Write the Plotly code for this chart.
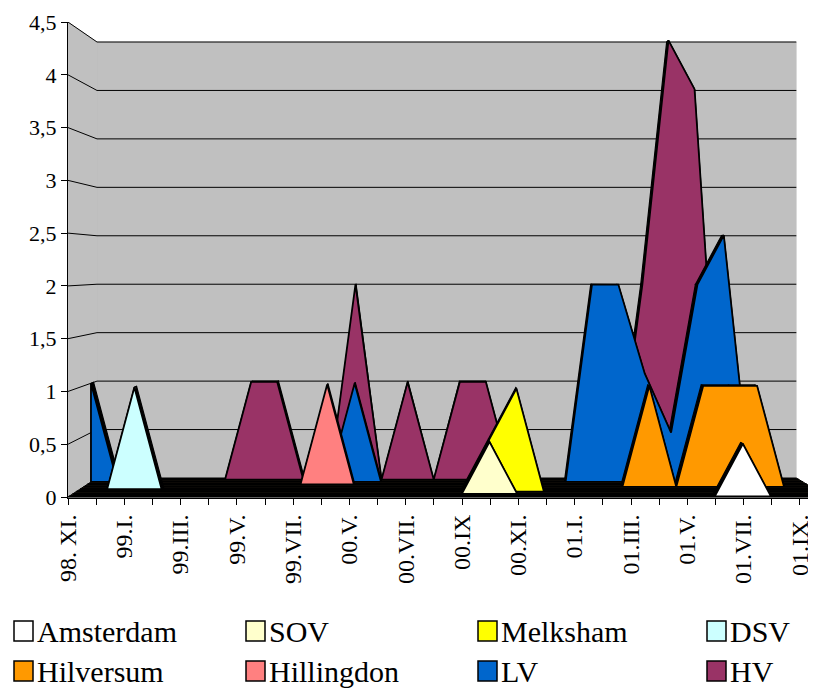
import plotly.graph_objects as go

# ---------------- data ----------------
categories = ["98. XI.", "98.XII.", "99.I.", "99.II.", "99.III.", "99.IV.", "99.V.", "99.VI.",
              "99.VII.", "99.IX.", "00.V.", "00.VI.", "00.VII.", "00.VIII.", "00.IX", "00.X.",
              "00.XI.", "00.XII.", "01.I.", "01.II.", "01.III.", "01.IV.", "01.V.", "01.VI.",
              "01.VII.", "01.VIII.", "01.IX.", "01.X."]
shown_every = 2

series_names = ["Amsterdam", "SOV", "Melksham", "DSV", "Hilversum", "Hillingdon", "LV", "HV"]
amsterdam  = [0, 0, 0, 0, 0, 0, 0, 0, 0, 0, 0, 0, 0, 0, 0, 0, 0, 0, 0, 0, 0, 0, 0, 0, 0.5, 0, 0, 0]
sov        = [0, 0, 0, 0, 0, 0, 0, 0, 0, 0, 0, 0, 0, 0, 0, 0.5, 0, 0, 0, 0, 0, 0, 0, 0, 0, 0, 0, 0]
melksham   = [0, 0, 0, 0, 0, 0, 0, 0, 0, 0, 0, 0, 0, 0, 0, 0.5, 1, 0, 0, 0, 0, 0, 0, 0, 0, 0, 0, 0]
dsv        = [0, 0, 1, 0, 0, 0, 0, 0, 0, 0, 0, 0, 0, 0, 0, 0, 0, 0, 0, 0, 0, 0, 0, 0, 0, 0, 0, 0]
hilversum  = [0, 0, 0, 0, 0, 0, 0, 0, 0, 0, 0, 0, 0, 0, 0, 0, 0, 0, 0, 0, 0, 1, 0, 1, 1, 1, 0, 0]
hillingdon = [0, 0, 0, 0, 0, 0, 0, 0, 0, 1, 0, 0, 0, 0, 0, 0, 0, 0, 0, 0, 0, 0, 0, 0, 0, 0, 0, 0]
lv         = [1, 0, 0, 0, 0, 0, 0, 0, 0, 0, 1, 0, 0, 0, 0, 0, 0, 0, 0, 2, 2, 1.1, 0.5, 2, 2.5, 0, 0, 0]
hv         = [0, 0, 0, 0, 0, 0, 1, 1, 0, 0, 2, 0, 1, 0, 1, 1, 0, 0, 0, 0, 0, 2, 4.5, 4, 0, 0, 0, 0]
series_values = [amsterdam, sov, melksham, dsv, hilversum, hillingdon, lv, hv]
series_colors = ["#FFFFFF", "#FFFFCC", "#FFFF00", "#CCFFFF", "#FF9900", "#FF8080", "#0066CC", "#993366"]

y_ticks = [0, 0.5, 1, 1.5, 2, 2.5, 3, 3.5, 4, 4.5]
y_tick_labels = ["0", "0,5", "1", "1,5", "2", "2,5", "3", "3,5", "4", "4,5"]

# ---------------- 3D look (projection of depth onto the front plane) ----------------
Y_MAX = 4.5
BACK_DX, BACK_SX, BACK_DY, BACK_SY = 1.030, 0.9201, 0.180, 0.918
DEPTH0, DEPTH_STEP, RIBBON = 0.03, 0.127, 0.09
FONT = "Liberation Serif"
WALL = "#C0C0C0"


def proj(c, v, t):
    return (t * BACK_DX + c * (1 - t * (1 - BACK_SX)),
            t * BACK_DY + v * (1 - t * (1 - BACK_SY)))


fig = go.Figure()


def add_poly(polys, fill=None, line_color="black", width=1):
    xs, ys = [], []
    for p in polys:
        for (x, y) in p:
            xs.append(x)
            ys.append(y)
        if fill is not None:
            xs.append(p[0][0])
            ys.append(p[0][1])
        xs.append(None)
        ys.append(None)
    fig.add_trace(go.Scatter(
        x=xs, y=ys, mode="lines",
        fill="toself" if fill is not None else None,
        fillcolor=fill,
        line=dict(color=line_color, width=width),
        hoverinfo="skip", showlegend=False))


n = len(categories)
last = n - 1

# walls
add_poly([[proj(0, 0, 1), proj(last, 0, 1), proj(last, Y_MAX, 1), proj(0, Y_MAX, 1)]],
         fill=WALL, line_color=WALL, width=0.5)
add_poly([[proj(0, 0, 0), proj(0, 0, 1), proj(0, Y_MAX, 1), proj(0, Y_MAX, 0)]],
         fill=WALL, line_color=WALL, width=0.5)
# gridlines
add_poly([[proj(0, v, 0), proj(0, v, 1), proj(last, v, 1)] for v in y_ticks[1:]],
         line_color="black", width=1)
# floor
add_poly([[proj(0, 0, 0), proj(last, 0, 0), proj(last, 0, 1), proj(0, 0, 1)]],
         fill="#000000", line_color="#000000", width=1)
add_poly([[proj(0, 0, DEPTH0 + DEPTH_STEP * k - 0.02), proj(last, 0, DEPTH0 + DEPTH_STEP * k - 0.02)]
          for k in range(1, len(series_names))], line_color="#3a3020", width=1)

# series, back to front
for k in reversed(range(len(series_names))):
    vals = series_values[k]
    t = DEPTH0 + DEPTH_STEP * k
    tops = []
    for i in range(n - 1):
        if vals[i] == 0 and vals[i + 1] == 0:
            continue
        tops.append([proj(i, vals[i], t), proj(i + 1, vals[i + 1], t),
                     proj(i + 1, vals[i + 1], t + RIBBON), proj(i, vals[i], t + RIBBON)])
    if tops:
        add_poly(tops, fill="#000000", line_color="black", width=1.2)
    front = [proj(i, vals[i], t) for i in range(n)] + [proj(last, 0, t), proj(0, 0, t)]
    add_poly([front], fill=series_colors[k], line_color="black", width=1.8)

# ---------------- layout ----------------
# the page body has an 8px margin, so the figure is made 8px smaller and everything shifted
PAGE_OFF = 8
W, H = 816 - PAGE_OFF, 690 - PAGE_OFF
L, T, B = 68 - PAGE_OFF, 22 - PAGE_OFF, 498 - PAGE_OFF
PLOT_W, PLOT_H = W - L, B - T
PX_PER_CAT = 28.15
x_range = [0, PLOT_W / PX_PER_CAT]
y_range = [-(1 / 105.55), Y_MAX + 0.0005]

fig.update_layout(
    width=W, height=H,
    margin=dict(l=L, r=0, t=T, b=H - B, pad=0, autoexpand=False),
    paper_bgcolor="white", plot_bgcolor="white",
    showlegend=False,
    font=dict(family=FONT, color="black"),
    xaxis=dict(range=x_range, tickmode="array", tickvals=list(range(n)),
               ticktext=[c if i % shown_every == 0 else "" for i, c in enumerate(categories)],
               tickangle=-90, ticks="outside", ticklen=6, tickcolor="black",
               showline=True, linecolor="black", linewidth=1, automargin=False,
               showgrid=False, zeroline=False, tickfont=dict(size=24, family=FONT)),
    yaxis=dict(range=y_range, tickmode="array", tickvals=y_ticks, ticktext=y_tick_labels,
               ticks="outside", ticklen=6, tickcolor="black", automargin=False,
               showline=True, linecolor="black", linewidth=1,
               showgrid=False, zeroline=False, tickfont=dict(size=22, family=FONT)),
)

# legend (drawn manually: 2 rows x 4 columns), positions in page pixels
def px2paper(px, py):
    return (px - PAGE_OFF - L) / PLOT_W, (B - (py - PAGE_OFF)) / PLOT_H

legend_cols = [14, 246, 478, 707]
legend_rows = [631, 671]
for idx, name in enumerate(series_names):
    col, row = idx % 4, idx // 4
    sx, cy = legend_cols[col], legend_rows[row]
    x0, y0 = px2paper(sx, cy + 10)
    x1, y1 = px2paper(sx + 19, cy - 10)
    fig.add_shape(type="rect", xref="paper", yref="paper", x0=x0, y0=y0, x1=x1, y1=y1,
                  fillcolor=series_colors[idx], line=dict(color="black", width=1.5))
    tx, ty = px2paper(sx + 21, cy)
    fig.add_annotation(text=name, xref="paper", yref="paper", x=tx, y=ty,
                       xanchor="left", yanchor="middle", showarrow=False,
                       font=dict(size=30, family=FONT, color="black"))

fig.write_html("out.html")
